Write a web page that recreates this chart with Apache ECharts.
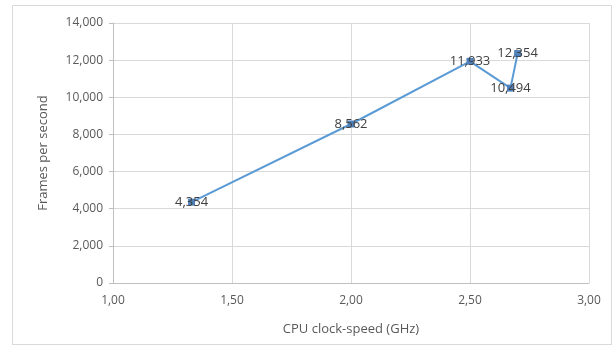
<!DOCTYPE html>
<html>
<head>
<meta charset="utf-8">
<script src="https://cdn.jsdelivr.net/npm/echarts@6/dist/echarts.min.js"></script>
<style>
html,body{margin:0;padding:0;background:#fff;}
#c{width:616px;height:352px;}
</style>
</head>
<body>
<div id="c"></div>
<script>
var clockGHz = [1.33, 2.0, 2.5, 2.67, 2.7];
var fps = [4354, 8562, 11933, 10494, 12354];
var xTicks = [1.0, 1.5, 2.0, 2.5, 3.0];
var yTicks = [0, 2000, 4000, 6000, 8000, 10000, 12000, 14000];

function thousands(v){ return String(Math.round(v)).replace(/\B(?=(\d{3})+(?!\d))/g, ','); }

var FONT = 'Open Sans';
var chart = echarts.init(document.getElementById('c'), null, {renderer:'canvas'});
chart.setOption({
  animation:false,
  backgroundColor:'#fff',
  graphic:[{type:'rect', shape:{x:12.5,y:5.5,width:599,height:339}, style:{fill:'none', stroke:'#d9d9d9', lineWidth:1}, silent:true}],
  grid:{left:113, right:27, top:23, bottom:69},
  xAxis:{
    type:'value', min:xTicks[0], max:xTicks[xTicks.length-1], interval:0.5,
    name:'CPU clock-speed (GHz)', nameLocation:'middle', nameGap:40,
    nameTextStyle:{color:'#595959', fontSize:13, fontFamily:FONT},
    axisLine:{show:true, lineStyle:{color:'#bfbfbf'}},
    axisTick:{show:false},
    axisLabel:{color:'#595959', fontSize:12, fontFamily:FONT, margin:12,
      formatter:function(v){ return v.toFixed(2).replace('.', ','); }},
    splitLine:{show:true, lineStyle:{color:'#d9d9d9'}}
  },
  yAxis:{
    type:'value', min:yTicks[0], max:yTicks[yTicks.length-1], interval:2000,
    name:'Frames per second', nameLocation:'middle', nameGap:63,
    nameTextStyle:{color:'#595959', fontSize:13, fontFamily:FONT},
    axisLine:{show:true, lineStyle:{color:'#bfbfbf'}},
    axisTick:{show:true, length:4, lineStyle:{color:'#bfbfbf'}},
    axisLabel:{color:'#595959', fontSize:12, fontFamily:FONT, margin:10,
      formatter:function(v){ return thousands(v); }},
    splitLine:{show:true, lineStyle:{color:'#d9d9d9'}}
  },
  series:[{
    type:'line',
    data: clockGHz.map(function(x,i){ return [x, fps[i]]; }),
    symbol:'rect', symbolSize:7,
    lineStyle:{color:'#5b9bd5', width:2},
    itemStyle:{color:'#4f81bd'},
    label:{show:true, position:'inside', color:'#404040', fontSize:13, fontFamily:FONT,
      formatter:function(p){ return thousands(p.value[1]); }}
  }]
});
</script>
</body>
</html>
